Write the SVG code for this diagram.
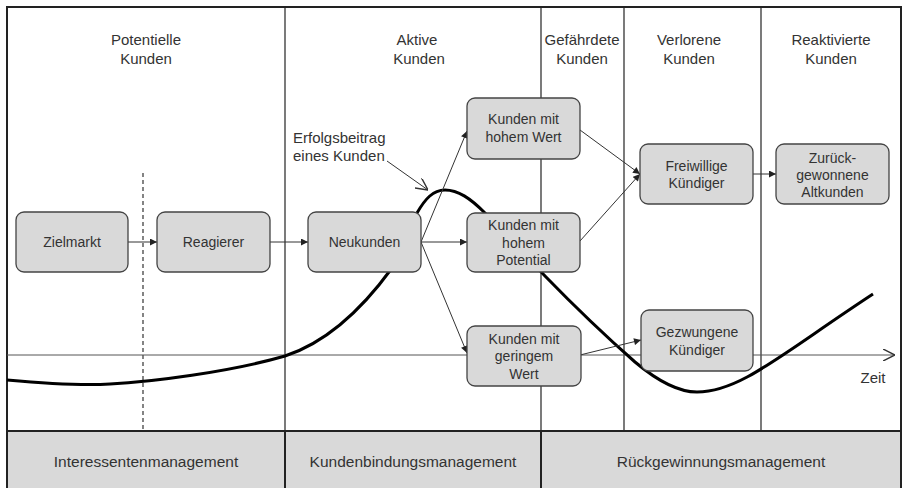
<svg xmlns="http://www.w3.org/2000/svg" width="903" height="488" viewBox="0 0 903 488">
  <defs>
    <style>
      text { font-family: "Liberation Sans", Arial, sans-serif; fill: #333333; text-anchor: middle; }
      .hdr { font-size: 15px; }
      .lbl { font-size: 14px; }
      .band-t { font-size: 15.5px; }
      .grid { stroke: #333333; stroke-width: 1.3; fill: none; }
      .frame { stroke: #222222; stroke-width: 2; fill: none; }
      .node rect { fill: #d9d9d9; stroke: #444444; stroke-width: 1.3; }
      .flow { stroke: #333333; stroke-width: 1; fill: none; marker-end: url(#tri); }
      .curve { stroke: #000000; stroke-width: 3; fill: none; stroke-linejoin: round; }
    </style>
    <marker id="tri" viewBox="0 0 10 10" refX="10" refY="5" markerWidth="8" markerHeight="7" markerUnits="userSpaceOnUse" orient="auto">
      <path d="M0,0 L10,5 L0,10 Z" fill="#222222"/>
    </marker>
    <marker id="open" viewBox="0 0 10 10" refX="10" refY="5" markerWidth="12" markerHeight="12" markerUnits="userSpaceOnUse" orient="auto">
      <path d="M0,0 L10,5 L0,10" fill="none" stroke="#333333" stroke-width="1.2"/>
    </marker>
  </defs>

  <rect width="903" height="488" fill="#ffffff"/>

  <!-- management band -->
  <rect x="7" y="431" width="894" height="60" fill="#d9d9d9"/>

  <!-- phase columns -->
  <g id="grid">
    <line class="grid" x1="285" y1="7" x2="285" y2="431"/>
    <line class="grid" x1="541" y1="7" x2="541" y2="431"/>
    <line class="grid" x1="624" y1="7" x2="624" y2="431"/>
    <line class="grid" x1="761" y1="7" x2="761" y2="431"/>
    <line x1="143" y1="173" x2="143" y2="431" stroke="#333333" stroke-width="1.2" stroke-dasharray="4 3"/>
    <line class="frame" x1="7" y1="431" x2="901" y2="431"/>
    <line class="frame" x1="285" y1="431" x2="285" y2="490"/>
    <line class="frame" x1="541" y1="431" x2="541" y2="490"/>
    <rect class="frame" x="7" y="7" width="894" height="490"/>
  </g>

  <!-- phase headers -->
  <g id="headers" class="hdr">
    <text class="hdr" x="146" y="45">Potentielle</text>
    <text class="hdr" x="146" y="64">Kunden</text>
    <text class="hdr" x="417" y="45">Aktive</text>
    <text class="hdr" x="419" y="64">Kunden</text>
    <text class="hdr" x="582" y="45">Gefährdete</text>
    <text class="hdr" x="582" y="64">Kunden</text>
    <text class="hdr" x="689" y="45">Verlorene</text>
    <text class="hdr" x="689" y="64">Kunden</text>
    <text class="hdr" x="831" y="45">Reaktivierte</text>
    <text class="hdr" x="831" y="64">Kunden</text>
  </g>

  <!-- time axis -->
  <g id="axis">
    <line x1="7" y1="355" x2="895" y2="355" stroke="#555555" stroke-width="1" marker-end="url(#open)"/>
    <text class="hdr" x="873" y="383">Zeit</text>
  </g>

  <!-- customer contribution curve -->
  <path class="curve" d="M7,380 C40,383 75,386 110,384 C150,382 230,372 285,356 C325,343 360,312 392,268 L417,213 C425,199 433,190 445,190 C458,190 470,198 485,213 L545,276 C580,312 610,340 635,362 C660,383 680,392 697,392 C740,392 780,355 873,294"/>

  <!-- annotation -->
  <g id="annotation">
    <text class="hdr" x="293" y="143" style="text-anchor:start">Erfolgsbeitrag</text>
    <text class="hdr" x="293" y="161" style="text-anchor:start">eines Kunden</text>
    <line x1="387" y1="161" x2="428" y2="190" stroke="#333333" stroke-width="1" marker-end="url(#open)"/>
  </g>

  <!-- connectors -->
  <g id="connectors">
    <line class="flow" x1="128" y1="242" x2="157" y2="242"/>
    <line class="flow" x1="270" y1="242" x2="308" y2="242"/>
    <line class="flow" x1="421" y1="242" x2="467" y2="242"/>
    <line class="flow" x1="421" y1="242" x2="467" y2="131"/>
    <line class="flow" x1="421" y1="242" x2="467" y2="353"/>
    <line class="flow" x1="580" y1="130" x2="640" y2="174"/>
    <line class="flow" x1="580" y1="241" x2="640" y2="174"/>
    <line class="flow" x1="753" y1="174" x2="776" y2="174"/>
    <line class="flow" x1="580" y1="355" x2="641" y2="340"/>
  </g>

  <!-- nodes -->
  <g id="zielmarkt" class="node">
    <rect x="16" y="212" width="112" height="60" rx="8"/>
    <text class="lbl" x="72" y="247">Zielmarkt</text>
  </g>
  <g id="reagierer" class="node">
    <rect x="157" y="212" width="113" height="60" rx="8"/>
    <text class="lbl" x="213.5" y="247">Reagierer</text>
  </g>
  <g id="neukunden" class="node">
    <rect x="308" y="212" width="113" height="60" rx="8"/>
    <text class="lbl" x="364.5" y="247">Neukunden</text>
  </g>
  <g id="hoher-wert" class="node">
    <rect x="467" y="98" width="113" height="61" rx="8"/>
    <text class="lbl" x="523.5" y="124">Kunden mit</text>
    <text class="lbl" x="523.5" y="142">hohem Wert</text>
  </g>
  <g id="hohes-potential" class="node">
    <rect x="467" y="213" width="113" height="59" rx="8"/>
    <text class="lbl" x="523.5" y="230">Kunden mit</text>
    <text class="lbl" x="523.5" y="247.5">hohem</text>
    <text class="lbl" x="523.5" y="265">Potential</text>
  </g>
  <g id="geringer-wert" class="node">
    <rect x="467" y="326" width="114" height="60" rx="8"/>
    <text class="lbl" x="524" y="343.5">Kunden mit</text>
    <text class="lbl" x="524" y="361">geringem</text>
    <text class="lbl" x="524" y="378.5">Wert</text>
  </g>
  <g id="freiwillige" class="node">
    <rect x="640" y="144" width="113" height="60" rx="8"/>
    <text class="lbl" x="696.5" y="171">Freiwillige</text>
    <text class="lbl" x="696.5" y="188">Kündiger</text>
  </g>
  <g id="zurueckgewonnene" class="node">
    <rect x="776" y="144" width="113" height="60" rx="8"/>
    <text class="lbl" x="832.5" y="162.5">Zurück-</text>
    <text class="lbl" x="832.5" y="180">gewonnene</text>
    <text class="lbl" x="832.5" y="197">Altkunden</text>
  </g>
  <g id="gezwungene" class="node">
    <rect x="641" y="310" width="112" height="61" rx="8"/>
    <text class="lbl" x="697" y="337">Gezwungene</text>
    <text class="lbl" x="697" y="354.5">Kündiger</text>
  </g>

  <!-- management areas -->
  <g id="bands">
    <text class="band-t" x="146" y="467">Interessentenmanagement</text>
    <text class="band-t" x="413" y="467">Kundenbindungsmanagement</text>
    <text class="band-t" x="721" y="467">Rückgewinnungsmanagement</text>
  </g>
</svg>
